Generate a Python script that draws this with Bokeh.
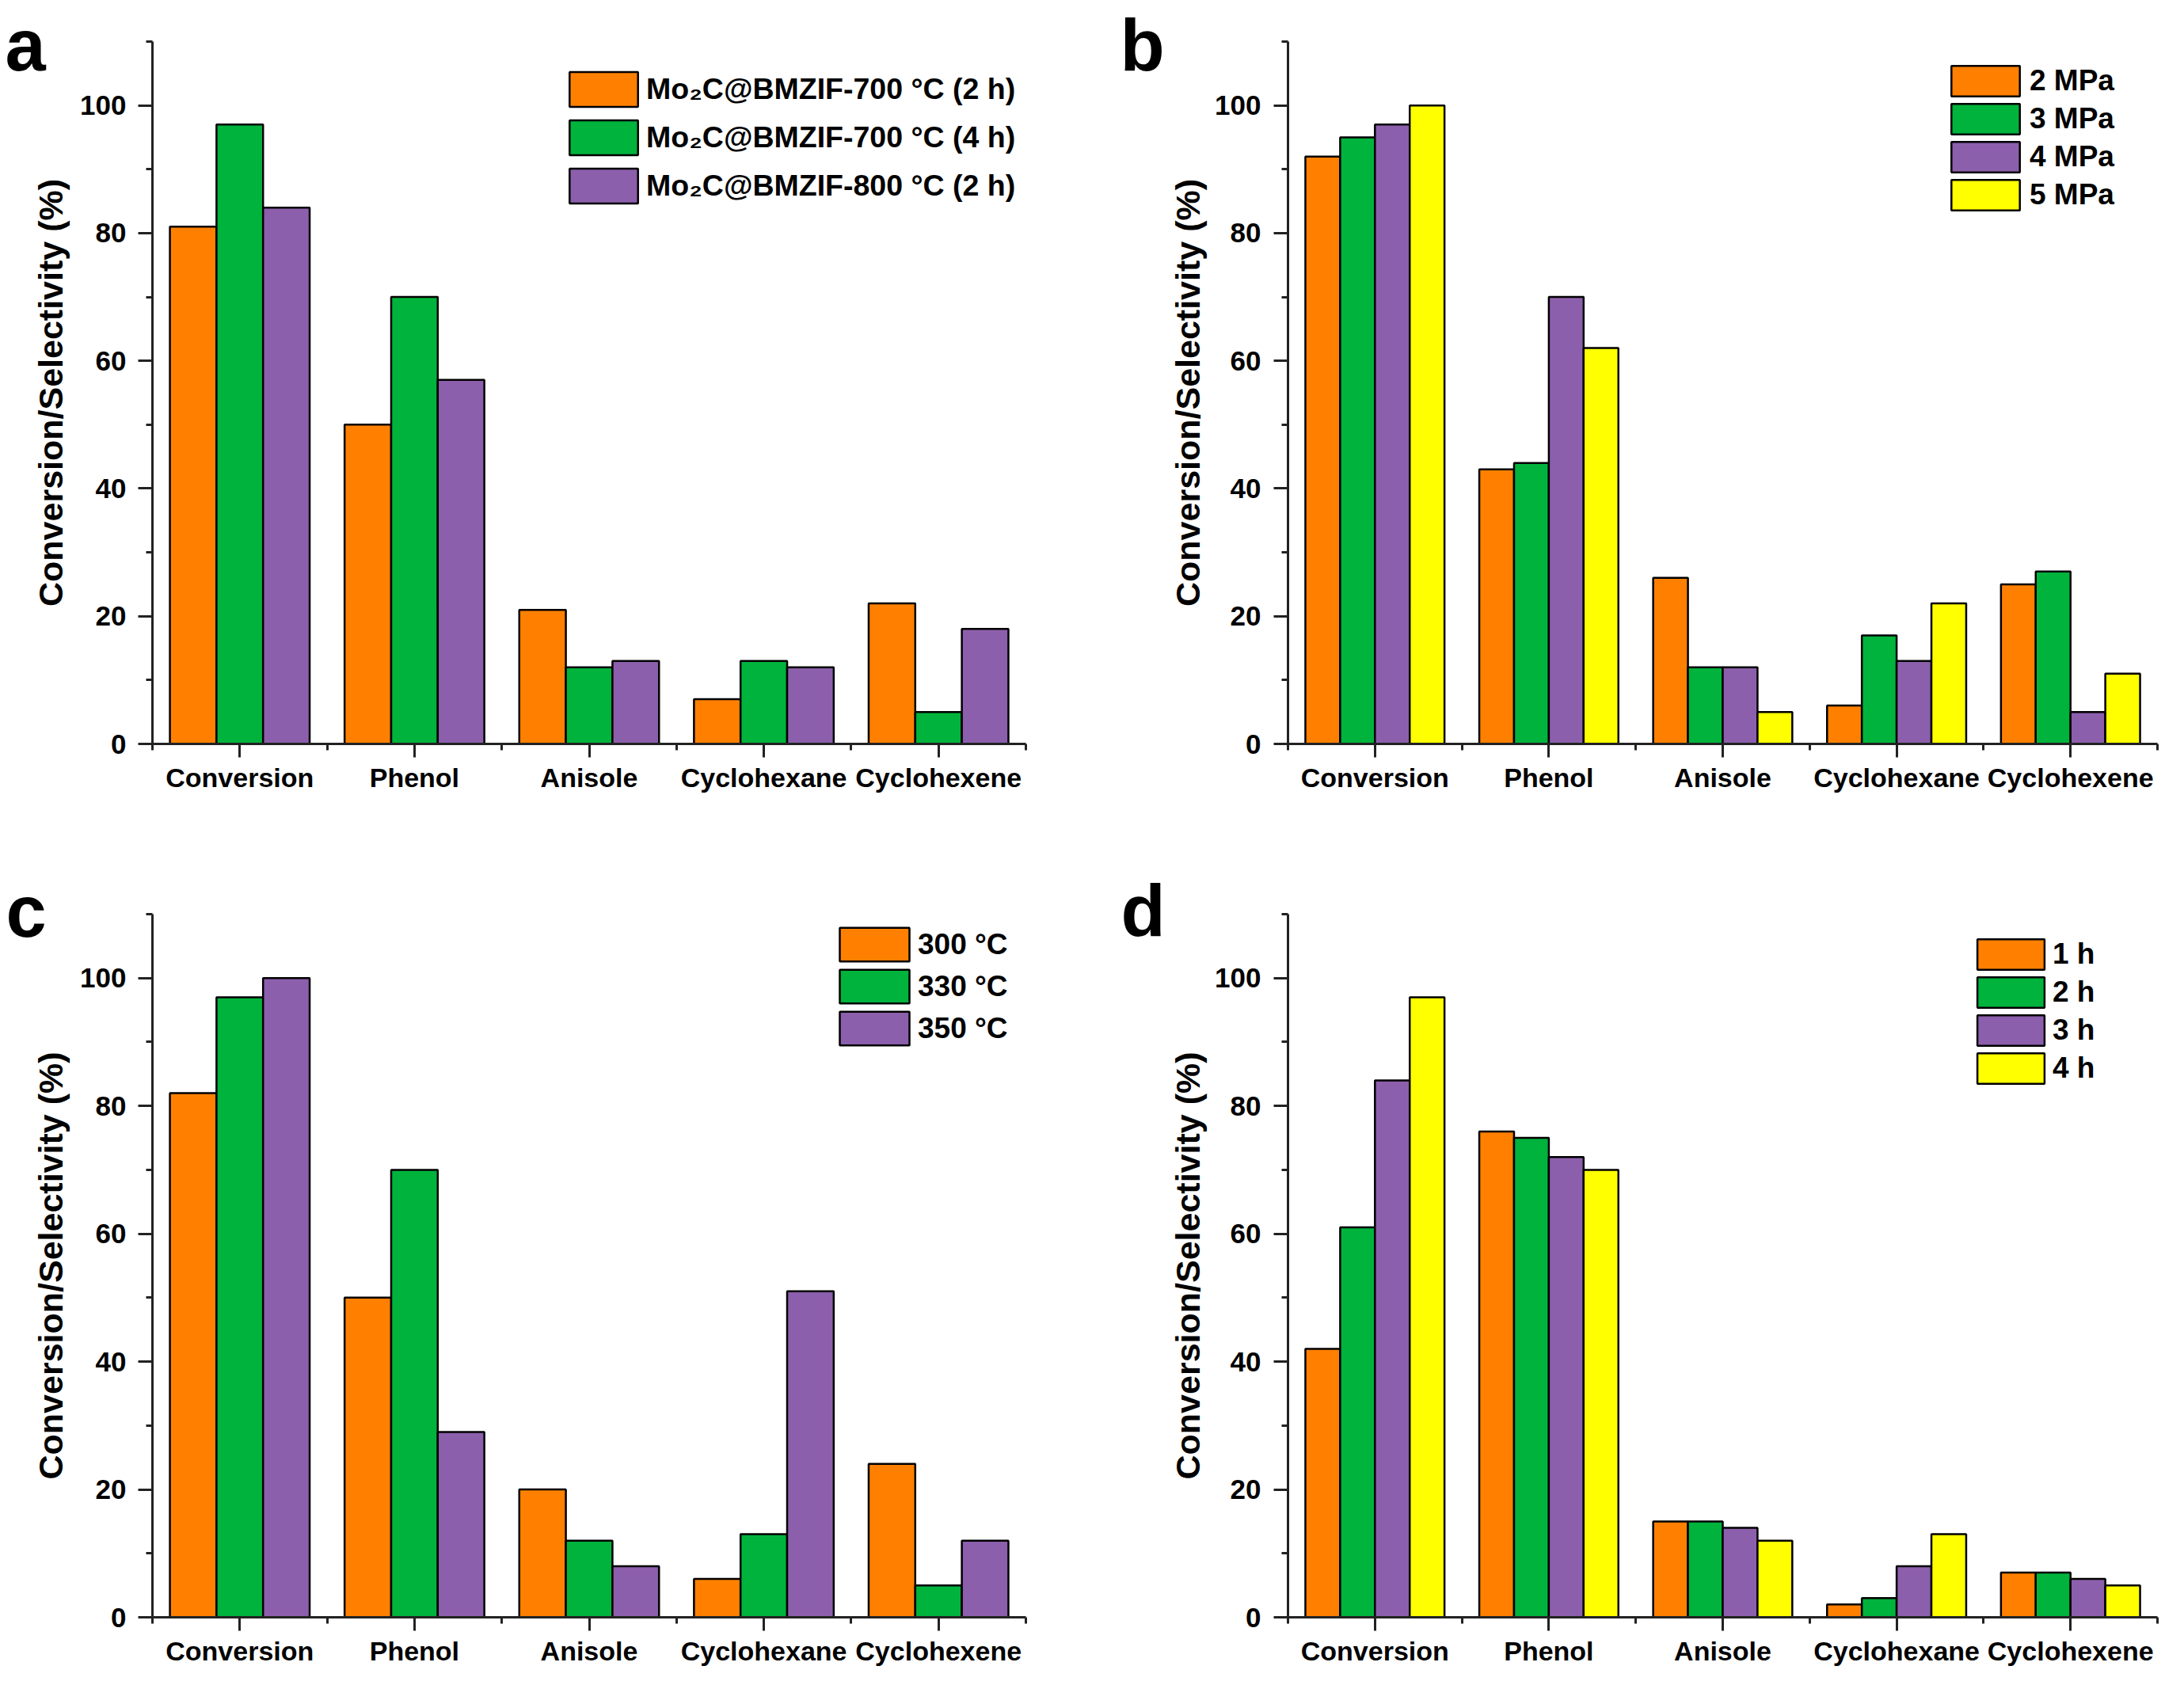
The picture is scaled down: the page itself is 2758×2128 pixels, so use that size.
from bokeh.plotting import figure
from bokeh.layouts import gridplot
from bokeh.models import FixedTicker, Legend, LegendItem, Label, Range1d, ColumnDataSource
from bokeh.embed import file_html
from bokeh.resources import INLINE

# ---------------- data ----------------
categories = ["Conversion", "Phenol", "Anisole", "Cyclohexane", "Cyclohexene"]
positions = [1, 2, 3, 4, 5]

ORANGE = "#FF8000"
GREEN = "#00B33C"
PURPLE = "#8C5FAC"
YELLOW = "#FFFF00"

a_labels = ["Mo\u2082C@BMZIF-700 \u00b0C (2 h)", "Mo\u2082C@BMZIF-700 \u00b0C (4 h)", "Mo\u2082C@BMZIF-800 \u00b0C (2 h)"]
a_700_2h = [81, 50, 21, 7, 22]
a_700_4h = [97, 70, 12, 13, 5]
a_800_2h = [84, 57, 13, 12, 18]

b_labels = ["2 MPa", "3 MPa", "4 MPa", "5 MPa"]
b_2mpa = [92, 43, 26, 6, 25]
b_3mpa = [95, 44, 12, 17, 27]
b_4mpa = [97, 70, 12, 13, 5]
b_5mpa = [100, 62, 5, 22, 11]

c_labels = ["300 \u00b0C", "330 \u00b0C", "350 \u00b0C"]
c_300 = [82, 50, 20, 6, 24]
c_330 = [97, 70, 12, 13, 5]
c_350 = [100, 29, 8, 51, 12]

d_labels = ["1 h", "2 h", "3 h", "4 h"]
d_1h = [42, 76, 15, 2, 7]
d_2h = [61, 75, 15, 3, 7]
d_3h = [84, 72, 14, 8, 6]
d_4h = [97, 70, 12, 13, 5]

y_major = [0, 20, 40, 60, 80, 100]
y_minor = [10, 30, 50, 70, 90, 110]
x_minor = [0.5, 1.5, 2.5, 3.5, 4.5, 5.5]

FONT = "Liberation Sans"
GROUP_WIDTH = 0.8


def make_panel(series, labels, colors, geom, leg):
    p = figure(width=geom["w"], height=geom["h"],
               x_range=Range1d(0.5, 5.5), y_range=Range1d(0, 110),
               output_backend="svg", toolbar_location=None,
               min_border_left=geom["l"], min_border_right=geom["r"],
               min_border_top=geom["t"], min_border_bottom=geom["b"])
    p.outline_line_color = None
    p.xgrid.visible = False
    p.ygrid.visible = False
    p.background_fill_color = "white"
    p.border_fill_color = "white"

    n = len(series)
    bw = GROUP_WIDTH / n
    items = []
    for k, (vals, lab, col) in enumerate(zip(series, labels, colors)):
        off = -GROUP_WIDTH / 2 + bw * (k + 0.5)
        src = ColumnDataSource(dict(x=[pp + off for pp in positions], top=vals, cat=categories))
        r = p.vbar(x="x", top="top", bottom=0, width=bw, source=src,
                   fill_color=col, line_color="black", line_width=2.5)
        items.append(LegendItem(label=lab, renderers=[r]))

    xa = p.xaxis[0]
    xa.ticker = FixedTicker(ticks=positions, minor_ticks=x_minor)
    xa.major_label_overrides = {pp: c for pp, c in zip(positions, categories)}
    ya = p.yaxis[0]
    ya.ticker = FixedTicker(ticks=y_major, minor_ticks=y_minor)
    ya.axis_label = "Conversion/Selectivity (%)"
    for ax in (xa, ya):
        ax.axis_line_width = 3
        ax.axis_line_color = "#222222"
        ax.major_tick_line_width = 3
        ax.minor_tick_line_width = 3
        ax.major_tick_line_color = "#222222"
        ax.minor_tick_line_color = "#222222"
        ax.major_tick_in = 0
        ax.minor_tick_in = 0
        ax.minor_tick_out = 8
        ax.major_label_text_font = FONT
        ax.major_label_text_font_style = "bold"
        ax.major_label_text_color = "black"
    xa.major_tick_out = 17
    xa.major_label_text_font_size = "34px"
    xa.major_label_standoff = 6
    ya.major_tick_out = 18
    ya.major_label_text_font_size = "35px"
    ya.major_label_standoff = geom["ts"]
    ya.axis_label_text_font = FONT
    ya.axis_label_text_font_style = "bold"
    ya.axis_label_text_font_size = "43px"
    ya.axis_label_text_color = "black"
    ya.axis_label_standoff = geom["ls"]

    legend = Legend(items=items, location=leg["loc"], orientation="vertical",
                    glyph_width=leg["gw"], glyph_height=leg["gh"], spacing=leg["sp"],
                    padding=0, margin=0, label_standoff=leg["st"],
                    label_text_font=FONT, label_text_font_style="bold",
                    label_text_font_size=leg.get("fs", "37px"), label_text_color="black",
                    border_line_color=None, background_fill_alpha=0)
    p.add_layout(legend)
    return p


def add_letter(p, letter, x, y):
    # placed in the (otherwise empty) right side panel so it is not clipped to the frame
    p.add_layout(Label(x=x, y=y, x_units="screen", y_units="screen", text=letter,
                       text_font=FONT, text_font_style="bold", text_font_size="92px",
                       text_color="black", text_baseline="alphabetic", text_align="left"),
                 "right")


pa = make_panel([a_700_2h, a_700_4h, a_800_2h], a_labels, [ORANGE, GREEN, PURPLE],
                dict(w=1473, h=1056, l=192, r=178, t=52, b=116, ls=10, ts=15),
                dict(loc=(516, 677), gw=108, gh=55, sp=6, st=0, fs="37.5px"))
pb = make_panel([b_2mpa, b_3mpa, b_4mpa, b_5mpa], b_labels, [ORANGE, GREEN, PURPLE, YELLOW],
                dict(w=1264, h=1056, l=147, r=13, t=52, b=117, ls=7, ts=16),
                dict(loc=(827, 669), gw=108, gh=48, sp=0, st=2))
pc = make_panel([c_300, c_330, c_350], c_labels, [ORANGE, GREEN, PURPLE],
                dict(w=1473, h=1054, l=192, r=178, t=98, b=68, ls=10, ts=15),
                dict(loc=(857, 717), gw=110, gh=53, sp=0, st=0))
pd = make_panel([d_1h, d_2h, d_3h, d_4h], d_labels, [ORANGE, GREEN, PURPLE, YELLOW],
                dict(w=1264, h=1054, l=147, r=13, t=98, b=68, ls=7, ts=16),
                dict(loc=(860, 669), gw=106, gh=48, sp=0, st=0))

# letters of panels b/d sit in the gap left of panels b/d, drawn by the left-column figures
add_letter(pa, "b", 119, 883)
add_letter(pa, "a", -1345, 883)
add_letter(pc, "d", 120, 893)
add_letter(pc, "c", -1344, 892)

grid = gridplot([[pa, pb], [pc, pd]], toolbar_location=None)

open("out.html", "w").write(file_html(grid, INLINE))
